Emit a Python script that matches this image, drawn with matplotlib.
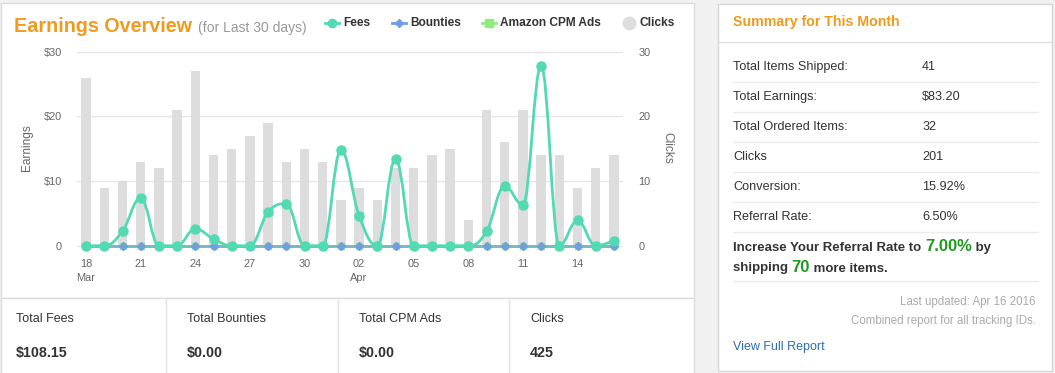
import numpy as np
import pandas as pd
import matplotlib
matplotlib.use('Agg')
import matplotlib.pyplot as plt
from matplotlib.path import Path
from matplotlib.patches import PathPatch, Rectangle

plt.rcParams['font.family'] = ['Liberation Sans', 'DejaVu Sans']

# ----- data -----
dates = pd.date_range('2016-03-18', '2016-04-16')
clicks = [26, 9, 10, 13, 12, 21, 27, 14, 15, 17, 19, 13, 15, 13, 7,
          9, 7, 12, 12, 14, 15, 4, 21, 16, 21, 14, 14, 9, 12, 14]
fees = [0, 0, 2.27, 7.37, 0, 0, 2.63, 1.03, 0, 0, 5.2, 6.5, 0, 0, 14.8,
        4.64, 0, 13.4, 0, 0, 0, 0, 2.2, 9.2, 6.3, 27.8, 0, 3.9, 0, 0.8]
bounties = [0] * 30
cpm_ads = [0] * 30

legend_names = ['Fees', 'Bounties', 'Amazon CPM Ads', 'Clicks']
total_labels = ['Total Fees', 'Total Bounties', 'Total CPM Ads', 'Clicks']
total_values = ['$108.15', '$0.00', '$0.00', '425']
summary_labels = ['Total Items Shipped:', 'Total Earnings:', 'Total Ordered Items:',
                  'Clicks', 'Conversion:', 'Referral Rate:']
summary_values = ['41', '$83.20', '32', '201', '15.92%', '6.50%']
target_rate = '7.00%'
items_needed = '70'

C_FEES = '#52dab2'
C_BOUNTY = '#6f9fe0'
C_CPM = '#90ed7d'
C_CLICKS = '#dddddd'
C_ORANGE = '#f39a1e'
C_TEXT = '#333333'
C_AXIS = '#666666'


def spline_path(xs, ys, smoothing=1.5):
    # highcharts-style spline: bezier control points around each point
    n = len(xs)
    lc = [(x, y) for x, y in zip(xs, ys)]
    rc = list(lc)
    d = smoothing + 1
    for i in range(1, n - 1):
        px, py = xs[i], ys[i]
        lx, ly = xs[i - 1], ys[i - 1]
        nx, ny = xs[i + 1], ys[i + 1]
        lcx, lcy = (smoothing * px + lx) / d, (smoothing * py + ly) / d
        rcx, rcy = (smoothing * px + nx) / d, (smoothing * py + ny) / d
        if rcx != lcx:
            corr = (rcy - lcy) * (rcx - px) / (rcx - lcx) + py - rcy
            lcy += corr
            rcy += corr
        if lcy > ly and lcy > py:
            lcy = max(ly, py); rcy = 2 * py - lcy
        elif lcy < ly and lcy < py:
            lcy = min(ly, py); rcy = 2 * py - lcy
        if rcy > ny and rcy > py:
            rcy = max(ny, py); lcy = 2 * py - rcy
        elif rcy < ny and rcy < py:
            rcy = min(ny, py); lcy = 2 * py - rcy
        lc[i] = (lcx, lcy)
        rc[i] = (rcx, rcy)
    verts = [(xs[0], ys[0])]
    codes = [Path.MOVETO]
    for i in range(1, n):
        verts += [rc[i - 1], lc[i], (xs[i], ys[i])]
        codes += [Path.CURVE4] * 3
    return Path(verts, codes)


fig = plt.figure(figsize=(10.55, 3.73), dpi=100)
fig.patch.set_facecolor('#f1f1f1')

# background layer in pixel coordinates
bg = fig.add_axes([0, 0, 1, 1])
bg.set_xlim(0, 1055)
bg.set_ylim(373, 0)
bg.axis('off')

# cards
bg.add_patch(Rectangle((0.5, 2.5), 693, 295, fc='white', ec='#dcdcdc', lw=1))
bg.add_patch(Rectangle((0.5, 297.5), 693, 80, fc='white', ec='#dcdcdc', lw=1))
bg.add_patch(Rectangle((717.5, 3.5), 334, 367, fc='white', ec='#d6d6d6', lw=1))
for sx in [166, 338, 509]:
    bg.plot([sx, sx], [298, 373], color='#e2e2e2', lw=1)

# ----- chart -----
x = np.arange(len(dates))
ax2 = fig.add_axes([77 / 1055, 0.3204, 546 / 1055, 0.555])
ax = ax2.twinx()
ax.set_zorder(ax2.get_zorder() + 1)
ax.patch.set_visible(False)

ylo, yhi = -1.2, 30.8
ax2.bar(x, clicks, width=0.52, color=C_CLICKS, zorder=2)
ax2.set_ylim(ylo, yhi)
ax.set_ylim(ylo, yhi)
ax2.set_xlim(-0.5, len(x) - 0.5)
ax2.set_yticks([0, 10, 20, 30])
ax2.grid(axis='y', color='#e6e6e6', lw=1, zorder=0)
ax2.set_axisbelow(True)

ax.plot(x, cpm_ads, color=C_CPM, lw=2, marker='s', ms=5, zorder=2)
ax.plot(x, bounties, color='#78b8c4', lw=2, marker='D', ms=4.5,
        mfc=C_BOUNTY, mec=C_BOUNTY, zorder=3)
ax.add_patch(PathPatch(spline_path(list(x), fees), fc='none', ec=C_FEES, lw=2, zorder=4))
ax.plot(x, fees, ls='none', marker='o', ms=6.5, color=C_FEES, zorder=5, clip_on=False)

# left axis = earnings, right axis = clicks
ax2.yaxis.tick_left()
ax.yaxis.tick_right()
ax2.set_yticklabels(['0', '$10', '$20', '$30'])
ax.set_yticks([0, 10, 20, 30])
ax.set_yticklabels(['0', '10', '20', '30'])
ax2.tick_params(axis='y', length=0, pad=11, labelsize=7.9, labelcolor=C_AXIS)
ax.tick_params(axis='y', length=0, pad=11, labelsize=7.9, labelcolor=C_AXIS)

tick_idx = list(range(0, len(dates), 3))
tick_lbls = []
for i in tick_idx:
    d = dates[i]
    lbl = d.strftime('%d')
    if i == 0 or d.day <= 3 and dates[i - 3].month != d.month:
        lbl += '\n' + d.strftime('%b')
    tick_lbls.append(lbl)
ax2.set_xticks(tick_idx)
ax2.set_xticklabels(tick_lbls, linespacing=1.45, va='top')
ax2.tick_params(axis='x', length=0, pad=4, labelsize=7.9, labelcolor=C_AXIS)
for a in (ax, ax2):
    for s in a.spines.values():
        s.set_visible(False)

bg.text(27, 148, 'Earnings', rotation=90, ha='center', va='center', fontsize=8.6, color=C_AXIS)
bg.text(667, 148, 'Clicks', rotation=270, ha='center', va='center', fontsize=8.6, color=C_AXIS)

# ----- header: title + legend -----
bg.text(14, 27, 'Earnings Overview', fontsize=14.2, fontweight='bold', color=C_ORANGE, va='center')
bg.text(198, 28, '(for Last 30 days)', fontsize=10, color='#999999', va='center')

leg_x = [332, 399, 489]
leg_style = [dict(color=C_FEES, marker='o', ms=6),
             dict(color=C_BOUNTY, marker='D', ms=4.5),
             dict(color=C_CPM, marker='s', ms=5.5)]
for lx, name, st in zip(leg_x, legend_names[:3], leg_style):
    bg.plot([lx - 7, lx + 7], [23, 23], lw=2, color=st['color'])
    bg.plot([lx], [23], ls='none', marker=st['marker'], ms=st['ms'], color=st['color'])
    bg.text(lx + 11, 23.5, name, fontsize=8.6, fontweight='bold', color=C_TEXT, va='center')
bg.plot([629], [23], ls='none', marker='o', ms=9, color=C_CLICKS)
bg.text(640, 23.5, legend_names[3], fontsize=8.6, fontweight='bold', color=C_TEXT, va='center')

# ----- totals strip -----
for tx, lab, val in zip([16, 187, 359, 530], total_labels, total_values):
    bg.text(tx, 319, lab, fontsize=9, color=C_TEXT, va='center')
    bg.text(tx, 353, val, fontsize=10.3, fontweight='bold', color=C_TEXT, va='center')

# ----- summary card -----
bg.text(733, 22, 'Summary for This Month', fontsize=10.2, fontweight='bold', color=C_ORANGE, va='center')
bg.plot([718, 1051], [41.5, 41.5], color='#e0e0e0', lw=1)
for k, (lab, val) in enumerate(zip(summary_labels, summary_values)):
    ry = 67 + 30 * k
    bg.text(733, ry, lab, fontsize=9.1, color=C_TEXT, va='center')
    bg.text(922, ry, val, fontsize=9.1, color=C_TEXT, va='center')
    bg.plot([733, 1038], [ry + 15, ry + 15], color='#ececec', lw=1)

renderer = fig.canvas.get_renderer()


def text_run(x0, y0, pieces):
    for s, kw in pieces:
        t = bg.text(x0, y0, s, va='baseline', **kw)
        x0 += t.get_window_extent(renderer=renderer).width


bold = dict(fontsize=9.5, fontweight='bold', color=C_TEXT)
green = dict(fontsize=12, fontweight='bold', color='#1e9a1e')
text_run(733, 251, [('Increase Your Referral Rate to ', bold), (target_rate, green), (' by', bold)])
text_run(733, 271.5, [('shipping ', bold), (items_needed, green), (' more items.', bold)])
bg.plot([733, 1038], [281, 281], color='#ececec', lw=1)

bg.text(1036, 302, 'Last updated: Apr 16 2016', fontsize=8.3, color='#aaaaaa', ha='right', va='center')
bg.text(1036, 321, 'Combined report for all tracking IDs.', fontsize=8.3, color='#aaaaaa', ha='right', va='center')
bg.text(733, 347, 'View Full Report', fontsize=9, color='#2a6fb5', va='center')

fig.savefig('out.png', dpi=100)
